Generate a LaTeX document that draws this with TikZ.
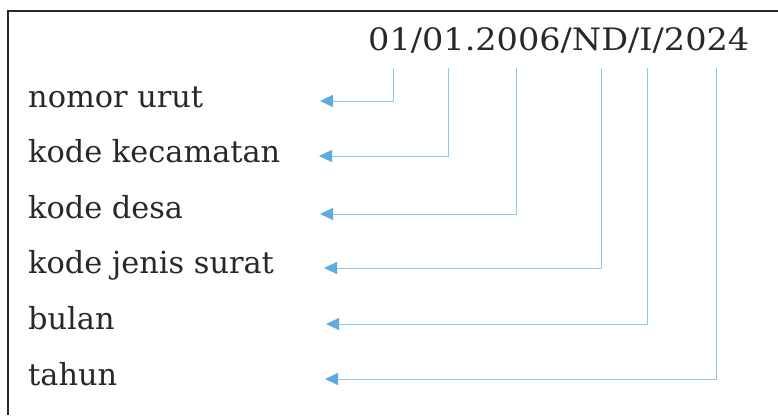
\documentclass[tikz,border=0pt]{standalone}
\usepackage{fontspec}
\setmainfont{DejaVu Serif}
\usetikzlibrary{arrows.meta}
\definecolor{ink}{RGB}{40,40,40}
\definecolor{lineblue}{RGB}{140,200,232}
\definecolor{tipblue}{RGB}{95,170,225}
\begin{document}
\begin{tikzpicture}[x=1bp,y=-1bp,
  lbl/.style={anchor=base west,inner sep=0pt,text=ink,font=\fontsize{30.5}{34}\selectfont},
  conn/.style={draw=lineblue,line width=0.9bp,-{Triangle[length=13bp,width=12bp,color=tipblue,fill=tipblue]}},
  frame/.style={draw=ink,line width=1.6bp}]
\useasboundingbox (0,0) rectangle (778,415);
\draw[frame] (8,415) -- (8,11) -- (778,11);
\node[lbl,font=\fontsize{31}{34}\selectfont,xscale=1.085] (code) at (368,50) {01/01.2006/ND/I/2024};
\node[lbl] (l1) at (28,107) {nomor urut};
\node[lbl] (l2) at (28,162) {kode kecamatan};
\node[lbl] (l3) at (28,218) {kode desa};
\node[lbl] (l4) at (28,273) {kode jenis surat};
\node[lbl] (l5) at (28,329) {bulan};
\node[lbl] (l6) at (28,385) {tahun};
\coordinate (t1) at (393,68);
\coordinate (t2) at (448,68);
\coordinate (t3) at (516,68);
\coordinate (t4) at (601,68);
\coordinate (t5) at (647,68);
\coordinate (t6) at (716,68);
\coordinate (e1) at (320,101);
\coordinate (e2) at (319,156);
\coordinate (e3) at (320,214);
\coordinate (e4) at (324,268);
\coordinate (e5) at (326,324);
\coordinate (e6) at (325,379);
\draw[conn] (t1) |- (e1);
\draw[conn] (t2) |- (e2);
\draw[conn] (t3) |- (e3);
\draw[conn] (t4) |- (e4);
\draw[conn] (t5) |- (e5);
\draw[conn] (t6) |- (e6);
\end{tikzpicture}
\end{document}
